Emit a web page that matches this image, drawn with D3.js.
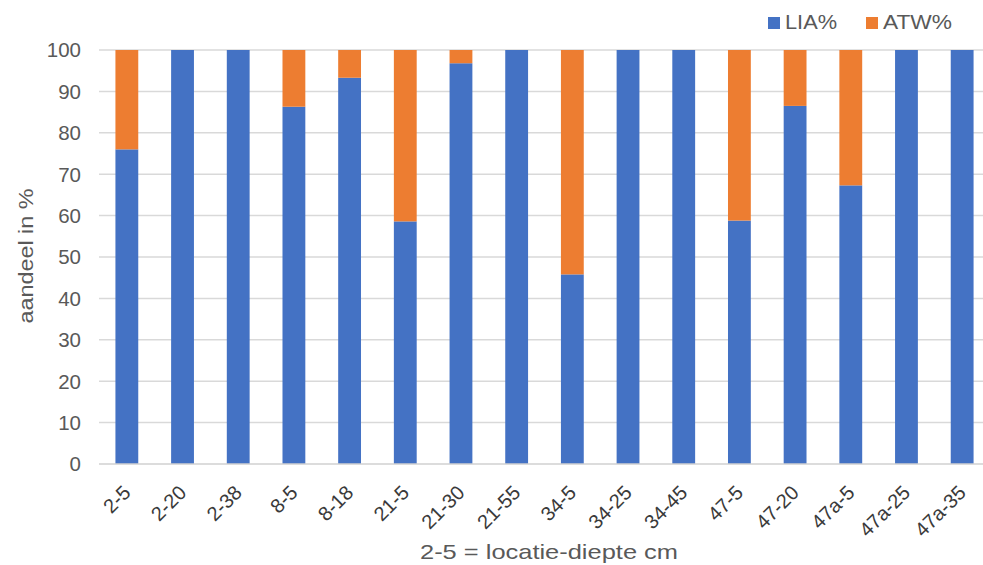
<!DOCTYPE html>
<html>
<head>
<meta charset="utf-8">
<script src="https://cdn.jsdelivr.net/npm/d3@7"></script>
<style>
  html, body { margin: 0; padding: 0; background: #fff; }
  svg { display: block; font-family: "Liberation Sans", Arial, sans-serif; }
</style>
</head>
<body>
<svg id="chart" width="983" height="565"></svg>
<script>
// Samples: location-depth (cm)
const categories = ["2-5", "2-20", "2-38", "8-5", "8-18", "21-5", "21-30", "21-55",
                    "34-5", "34-25", "34-45", "47-5", "47-20", "47a-5", "47a-25", "47a-35"];
// Share of LIA per sample (%)
const liaValues = [76, 100, 100, 86.3, 93.3, 58.6, 96.8, 100, 45.8, 100, 100, 58.8, 86.5, 67.3, 100, 100];
// Share of ATW per sample (%)
const atwValues = [24, 0, 0, 13.7, 6.7, 41.4, 3.2, 0, 54.2, 0, 0, 41.2, 13.5, 32.7, 0, 0];
const seriesNames = ["LIA%", "ATW%"];
const seriesColors = ["#4472C4", "#ED7D31"];
const yTicks = [0, 10, 20, 30, 40, 50, 60, 70, 80, 90, 100];

const rows = categories.map((c, i) => ({ cat: c, "LIA%": liaValues[i], "ATW%": atwValues[i] }));
const stacked = d3.stack().keys(seriesNames)(rows);

const svg = d3.select("#chart");
const x = d3.scaleBand().domain(categories).range([99, 990]).paddingInner(0.59).paddingOuter(0.295);
const y = d3.scaleLinear().domain([0, 100]).range([464, 50]);
const color = d3.scaleOrdinal().domain(seriesNames).range(seriesColors);

// horizontal gridlines
svg.append("g")
  .selectAll("line")
  .data(yTicks.filter(t => t > 0))
  .join("line")
  .attr("x1", 99).attr("x2", 990)
  .attr("y1", d => y(d)).attr("y2", d => y(d))
  .attr("stroke", "#d9d9d9").attr("stroke-width", 1.5);

// y tick labels
svg.append("g")
  .selectAll("text")
  .data(yTicks)
  .join("text")
  .attr("x", 81)
  .attr("y", d => y(d))
  .attr("dy", "0.36em")
  .attr("text-anchor", "end")
  .attr("font-size", 20.5)
  .attr("fill", "#595959")
  .text(d => d);

// stacked bars
svg.append("g")
  .selectAll("g")
  .data(stacked)
  .join("g")
  .attr("fill", d => color(d.key))
  .selectAll("rect")
  .data(d => d)
  .join("rect")
  .attr("x", d => x(d.data.cat))
  .attr("width", x.bandwidth())
  .attr("y", d => y(d[1]))
  .attr("height", d => y(d[0]) - y(d[1]));

// baseline
svg.append("line")
  .attr("x1", 99).attr("x2", 990)
  .attr("y1", y(0)).attr("y2", y(0))
  .attr("stroke", "#d0d0d0").attr("stroke-width", 1.5);

// x tick labels, rotated
svg.append("g")
  .selectAll("text")
  .data(categories)
  .join("text")
  .attr("transform", d => `translate(${x(d) + x.bandwidth() / 2 + 5},${y(0) + 30}) rotate(-45)`)
  .attr("text-anchor", "end")
  .attr("font-size", 20)
  .attr("fill", "#3a3a3a")
  .text(d => d);

// axis titles
svg.append("text")
  .attr("transform", "translate(33,256) rotate(-90)")
  .attr("text-anchor", "middle")
  .attr("font-size", 21)
  .attr("fill", "#595959")
  .attr("textLength", 135)
  .attr("lengthAdjust", "spacingAndGlyphs")
  .text("aandeel in %");

svg.append("text")
  .attr("x", 549).attr("y", 559)
  .attr("text-anchor", "middle")
  .attr("font-size", 21)
  .attr("fill", "#595959")
  .attr("textLength", 258)
  .attr("lengthAdjust", "spacingAndGlyphs")
  .text("2-5 = locatie-diepte cm");

// legend
const legendX = [768, 866];
const legendLen = [52, 69];
const legend = svg.append("g")
  .selectAll("g")
  .data(seriesNames)
  .join("g")
  .attr("transform", (d, i) => `translate(${legendX[i]},0)`);
legend.append("rect")
  .attr("x", 0).attr("y", 17).attr("width", 12).attr("height", 12)
  .attr("fill", d => color(d));
legend.append("text")
  .attr("x", 17).attr("y", 29)
  .attr("font-size", 20.5)
  .attr("fill", "#595959")
  .attr("textLength", (d, i) => legendLen[i])
  .attr("lengthAdjust", "spacingAndGlyphs")
  .text(d => d);
</script>
</body>
</html>
